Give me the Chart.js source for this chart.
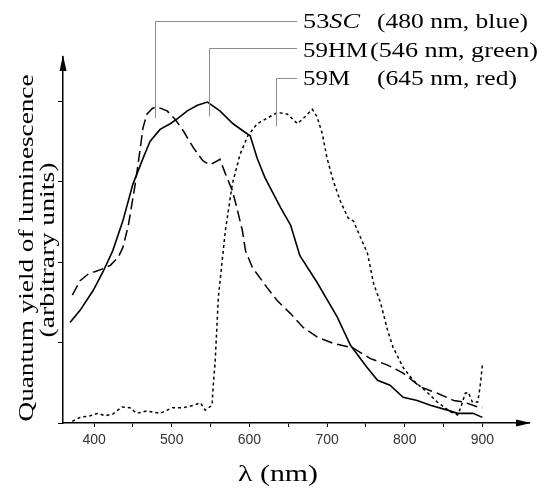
<!DOCTYPE html>
<html>
<head>
<meta charset="utf-8">
<script src="https://cdn.jsdelivr.net/npm/chart.js@4.4.1/dist/chart.umd.min.js"></script>
<style>
  html, body { margin: 0; padding: 0; background: #fff; }
  #c { display: block; }
</style>
</head>
<body>
<canvas id="c" width="545" height="488"></canvas>
<script>
// ── DATA ──
// x ticks (nm); labels only on the hundreds
var xTicks = [400, 450, 500, 550, 600, 650, 700, 750, 800, 850, 900];
var yTicks = [0, 1, 2, 3, 4];

// 59HM (546 nm, green) — solid
var hmNm = [369, 382, 399, 412, 424, 437, 450, 463, 472, 485, 498, 507, 520, 533, 546, 562, 579, 592, 601,
            610, 620, 640, 653, 665, 687, 713, 730, 750, 765, 781, 798, 816, 833, 855, 868, 888, 900];
var hmY  = [1.25, 1.40, 1.65, 1.89, 2.14, 2.51, 2.97, 3.29, 3.50, 3.65, 3.72, 3.78, 3.88, 3.95, 3.99, 3.88, 3.72, 3.63, 3.57,
            3.29, 3.05, 2.68, 2.46, 2.08, 1.75, 1.32, 0.97, 0.71, 0.53, 0.47, 0.32, 0.28, 0.22, 0.16, 0.12, 0.12, 0.07];

// 53SC (480 nm, blue) — long dash
var scNm = [372, 382, 395, 401, 412, 421, 431, 437, 444, 453, 459, 463, 468, 475, 481, 494, 504, 515, 528, 540,
            549, 559, 562, 569, 578, 584, 591, 595, 604, 623, 636, 653, 669, 687, 708, 734, 756, 778, 798, 820,
            842, 863, 876, 894, 900];
var scY  = [1.59, 1.77, 1.87, 1.88, 1.92, 1.96, 2.06, 2.18, 2.45, 2.97, 3.38, 3.67, 3.84, 3.91, 3.93, 3.88, 3.78, 3.63, 3.42, 3.26,
            3.21, 3.26, 3.28, 3.10, 2.89, 2.67, 2.39, 2.14, 1.93, 1.68, 1.52, 1.36, 1.19, 1.07, 0.99, 0.93, 0.80, 0.72, 0.62, 0.45,
            0.37, 0.28, 0.26, 0.20, 0.19];

// 59M (645 nm, red) — short dash
var mNm = [372, 382, 395, 405, 414, 424, 436, 446, 455, 468, 485, 501, 515, 528, 537, 543, 552, 553, 556, 560,
           565, 569, 578, 588, 598, 610, 623, 636, 649, 662, 672, 681, 687, 694, 700, 708, 717, 727, 734, 752,
           760, 769, 778, 785, 798, 811, 829, 842, 859, 868, 872, 878, 882, 887, 894, 897, 900];
var mY  = [0.02, 0.07, 0.09, 0.12, 0.09, 0.11, 0.20, 0.19, 0.12, 0.15, 0.12, 0.19, 0.19, 0.22, 0.25, 0.16, 0.22, 0.41, 0.78, 1.56,
           2.02, 2.39, 2.97, 3.34, 3.57, 3.72, 3.79, 3.86, 3.84, 3.72, 3.81, 3.90, 3.81, 3.59, 3.29, 3.01, 2.76, 2.55, 2.51, 2.11,
           1.73, 1.49, 1.15, 0.94, 0.69, 0.53, 0.38, 0.26, 0.14, 0.10, 0.19, 0.37, 0.38, 0.26, 0.26, 0.45, 0.72];

// annotation rows: sample name, description, where the leader line touches the curve
var labNames = ['53SC', '59HM', '59M'];
var labDescs = ['(480 nm, blue)', '(546 nm, green)', '(645 nm, red)'];
var leadNm   = [479, 548, 634];
var leadY    = [3.79, 3.81, 3.69];

var SERIF = '"Liberation Serif", "Times New Roman", Times, serif';

function pts(xs, ys) { return xs.map(function(x, i) { return { x: x, y: ys[i] }; }); }

// draw text squeezed/stretched to a given width (the scan is wider than plain Times)
function fitText(ctx, str, x, y, w) {
  var sx = w / ctx.measureText(str).width;
  ctx.save(); ctx.translate(x, y); ctx.scale(sx, 1); ctx.fillText(str, 0, 0); ctx.restore();
}

// ── DECORATIONS: arrows, leaders, titles ──
var decor = {
  id: 'decor',
  afterDraw: function(chart) {
    var ctx = chart.ctx, a = chart.chartArea, xs = chart.scales.x, ys = chart.scales.y;
    ctx.save();
    ctx.fillStyle = '#000';

    // arrow heads
    ctx.beginPath();
    ctx.moveTo(a.right + 2, a.bottom);
    ctx.lineTo(a.right - 13, a.bottom - 3.5);
    ctx.lineTo(a.right - 13, a.bottom + 3.5);
    ctx.closePath(); ctx.fill();
    ctx.beginPath();
    ctx.moveTo(a.left, a.top - 2);
    ctx.lineTo(a.left - 3.5, a.top + 14);
    ctx.lineTo(a.left + 3.5, a.top + 14);
    ctx.closePath(); ctx.fill();

    // leader lines
    var rowY = [21, 48, 78], textX = 303;
    ctx.strokeStyle = '#8c8c8c'; ctx.lineWidth = 1;
    for (var i = 0; i < 3; i++) {
      var lx = Math.round(xs.getPixelForValue(leadNm[i])) + 0.5;
      ctx.beginPath();
      ctx.moveTo(lx, ys.getPixelForValue(leadY[i]));
      ctx.lineTo(lx, rowY[i] + 0.5);
      ctx.lineTo(textX - 6, rowY[i] + 0.5);
      ctx.stroke();
    }

    // labels
    var base = [28, 57, 85], descX = [377, 370, 377];
    var nameW = [57, 65, 47], descW = [151, 168, 140];
    var lf = '21px ' + SERIF, lfi = 'italic 21px ' + SERIF;
    ctx.fillStyle = '#000'; ctx.textAlign = 'left'; ctx.textBaseline = 'alphabetic';
    for (var j = 0; j < 3; j++) {
      ctx.font = lf;
      if (j === 0) {
        // "53" upright, "SC" italic
        var w1 = ctx.measureText('53').width;
        ctx.font = lfi;
        var w2 = ctx.measureText('SC').width;
        var k0 = nameW[0] / (w1 + w2);
        ctx.font = lf;
        fitText(ctx, '53', textX, base[0], w1 * k0);
        ctx.font = lfi;
        fitText(ctx, 'SC', textX + w1 * k0, base[0], w2 * k0);
        ctx.font = lf;
      } else {
        fitText(ctx, labNames[j], textX, base[j], nameW[j]);
      }
      fitText(ctx, labDescs[j], descX[j], base[j], descW[j]);
    }

    // x title
    ctx.font = '24px ' + SERIF;
    fitText(ctx, '\u03bb (nm)', 238, 481, 80);

    // y title (two lines, rotated)
    var yLines = ['Quantum yield of luminescence', '(arbitrary units)'];
    var yBase = [33, 54], yMid = [248, 250], yLen = [347, 175];
    ctx.textAlign = 'center';
    ctx.font = '22px ' + SERIF;
    for (var k = 0; k < 2; k++) {
      ctx.save();
      ctx.translate(yBase[k], yMid[k]);
      ctx.rotate(-Math.PI / 2);
      fitText(ctx, yLines[k], 0, 0, yLen[k]);
      ctx.restore();
    }
    ctx.restore();
  }
};

var chart = new Chart(document.getElementById('c').getContext('2d'), {
  type: 'scatter',
  data: {
    datasets: [
      { label: '59HM', data: pts(hmNm, hmY), showLine: true, borderColor: '#000', borderWidth: 1.6, pointRadius: 0, tension: 0 },
      { label: '53SC', data: pts(scNm, scY), showLine: true, borderColor: '#000', borderWidth: 1.5, borderDash: [11, 5], pointRadius: 0, tension: 0 },
      { label: '59M',  data: pts(mNm, mY),   showLine: true, borderColor: '#000', borderWidth: 1.5, borderDash: [3, 3],  pointRadius: 0, tension: 0 }
    ]
  },
  options: {
    responsive: false, animation: false, devicePixelRatio: 1,
    layout: { padding: { top: 57, right: 16, left: 0, bottom: 0 } },
    plugins: { legend: { display: false }, tooltip: { enabled: false } },
    scales: {
      x: {
        type: 'linear', min: 360, max: 960,
        afterBuildTicks: function(s) { s.ticks = xTicks.map(function(v) { return { value: v }; }); },
        afterFit: function(s) { s.height = 65; },
        border: { display: true, color: '#000', width: 1.5 },
        grid: { drawOnChartArea: false, drawTicks: true, tickLength: 4, color: '#000', lineWidth: 1 },
        ticks: {
          padding: 5, color: '#333', maxRotation: 0, autoSkip: false,
          font: { family: '"Liberation Sans", Arial, Helvetica, sans-serif', size: 14 },
          callback: function(v) { return v % 100 === 0 ? String(v) : ''; }
        }
      },
      y: {
        min: 0, max: 4.55,
        afterBuildTicks: function(s) { s.ticks = yTicks.map(function(v) { return { value: v }; }); },
        afterFit: function(s) { s.width = 63; },
        border: { display: true, color: '#000', width: 1.5 },
        grid: { drawOnChartArea: false, drawTicks: true, tickLength: 5, color: '#000', lineWidth: 1 },
        ticks: { display: false }
      }
    }
  },
  plugins: [decor]
});

// redraw once local fonts are surely ready
if (document.fonts && document.fonts.load) {
  Promise.all([
    document.fonts.load('21px "Liberation Serif"'),
    document.fonts.load('italic 21px "Liberation Serif"'),
    document.fonts.load('14px "Liberation Sans"')
  ]).then(function() { chart.update(); }, function() {});
}
</script>
</body>
</html>
